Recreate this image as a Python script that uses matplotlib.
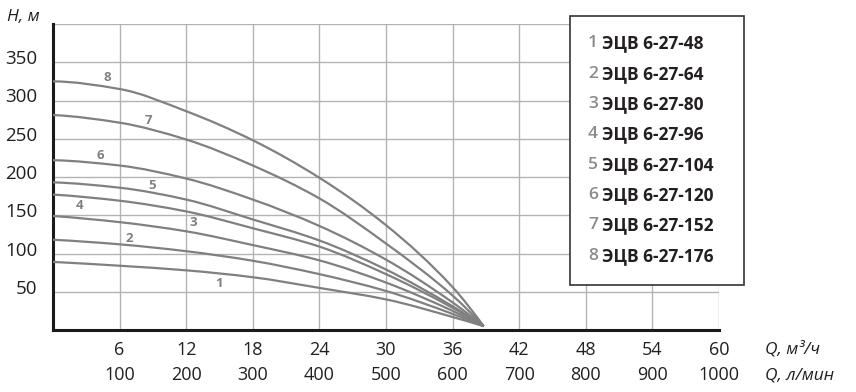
import numpy as np
import matplotlib
matplotlib.use("Agg")
import matplotlib.pyplot as plt
from matplotlib.path import Path
from matplotlib.patches import PathPatch, Rectangle
from matplotlib.transforms import ScaledTranslation

plt.rcParams['font.family'] = ['Open Sans', 'DejaVu Sans']

# ---- data ----
q_m3h = [0, 6, 12, 18, 24, 30, 36, 38.8]
head_1 = [89, 84, 78, 69, 55, 40, 17, 5]
head_2 = [118, 112, 103, 90.5, 73, 51, 21, 5]
head_3 = [149, 141, 129, 111, 91, 62, 25, 5]
head_4 = [177, 169, 155, 133, 109, 73, 29, 5]
head_5 = [193, 186, 170.5, 144.5, 117, 79, 31, 5]
head_6 = [222, 215, 198, 170.5, 136, 92, 36, 5]
head_7 = [281, 271, 249, 215, 172, 113, 45, 5]
head_8 = [325, 315, 286, 248, 199, 137, 56, 5]
heads = [head_1, head_2, head_3, head_4, head_5, head_6, head_7, head_8]
curve_ids = ['1', '2', '3', '4', '5', '6', '7', '8']
models = ['ЭЦВ 6-27-48', 'ЭЦВ 6-27-64', 'ЭЦВ 6-27-80', 'ЭЦВ 6-27-96',
          'ЭЦВ 6-27-104', 'ЭЦВ 6-27-120', 'ЭЦВ 6-27-152', 'ЭЦВ 6-27-176']
label_q = [15, 6.9, 12.6, 2.4, 8.9, 4.3, 8.6, 4.9]
label_h = [61, 120, 140, 163, 189, 228, 274, 330]
x_ticks = [6, 12, 18, 24, 30, 36, 42, 48, 54, 60]
lpm_labels = ['100', '200', '300', '400', '500', '600', '700', '800', '900', '1000']
y_ticks = [50, 100, 150, 200, 250, 300, 350]

CURVE = '#808080'
TXT = '#231f20'

fig = plt.figure(figsize=(8.56, 3.92), dpi=100)
W, H = 856, 392
ax = fig.add_axes([53 / W, 1 - 330 / H, (719 - 53) / W, (330 - 24) / H])
ax.set_xlim(0, 60)
ax.set_ylim(0, 400)

ax.tick_params(length=0)
ax.set_xticks(x_ticks)
ax.set_xticklabels([str(v) for v in x_ticks], fontsize=13, color=TXT)
ax.set_yticks(y_ticks)
ax.set_yticklabels([str(v) for v in y_ticks], fontsize=13.5, color=TXT)
ax.tick_params(axis='x', pad=8)
ax.tick_params(axis='y', pad=11)
for xv in x_ticks:
    ax.axvline(xv, color='#b3b3b3', linewidth=1.0, zorder=0.5)
for yv in y_ticks + [400]:
    ax.axhline(yv, color='#b3b3b3', linewidth=1.0, zorder=0.5)
for lab in ax.get_yticklabels():
    lab.set_transform(lab.get_transform() + ScaledTranslation(0, 5 / 100, fig.dpi_scale_trans))

for s in ['top', 'right']:
    ax.spines[s].set_visible(False)
for s in ['left', 'bottom']:
    ax.spines[s].set_linewidth(2.2)
    ax.spines[s].set_color('#1a1a1a')


# smooth monotone (PCHIP-style) Bezier path through the read points
def pchip_slopes(x, y):
    h = np.diff(x)
    d = np.diff(y) / h
    n = len(x)
    m = np.zeros(n)
    for k in range(1, n - 1):
        if d[k - 1] * d[k] <= 0:
            m[k] = 0.0
        else:
            w1 = 2 * h[k] + h[k - 1]
            w2 = h[k] + 2 * h[k - 1]
            m[k] = (w1 + w2) / (w1 / d[k - 1] + w2 / d[k])
    m[0] = ((2 * h[0] + h[1]) * d[0] - h[0] * d[1]) / (h[0] + h[1])
    if np.sign(m[0]) != np.sign(d[0]):
        m[0] = 0.0
    m[-1] = ((2 * h[-1] + h[-2]) * d[-1] - h[-1] * d[-2]) / (h[-1] + h[-2])
    if np.sign(m[-1]) != np.sign(d[-1]):
        m[-1] = 0.0
    return m


def smooth_path(xs, ys):
    x = np.asarray(xs, float)
    y = np.asarray(ys, float)
    m = pchip_slopes(x, y)
    verts = [(x[0], y[0])]
    codes = [Path.MOVETO]
    for i in range(len(x) - 1):
        hseg = x[i + 1] - x[i]
        verts += [(x[i] + hseg / 3, y[i] + m[i] * hseg / 3),
                  (x[i + 1] - hseg / 3, y[i + 1] - m[i + 1] * hseg / 3),
                  (x[i + 1], y[i + 1])]
        codes += [Path.CURVE4] * 3
    return Path(verts, codes)


for hs in heads:
    patch = PathPatch(smooth_path(q_m3h, hs), facecolor='none', edgecolor=CURVE,
                      linewidth=1.6, transform=ax.transData, zorder=3)
    ax.add_patch(patch)

for cid, lq, lh in zip(curve_ids, label_q, label_h):
    ax.text(lq, lh, cid, fontsize=9.5, color=CURVE, fontweight='bold',
            ha='center', va='center', zorder=4)

# second row of x labels (l/min)
off = ScaledTranslation(0, -45 / 100, fig.dpi_scale_trans)
for xv, lab in zip(x_ticks, lpm_labels):
    ax.text(xv, 0, lab, transform=ax.transData + off, fontsize=13, color=TXT,
            ha='center', va='center')

# axis titles
fig.text(7 / W, 1 - 17 / H, 'H, м', fontsize=12.5, style='italic', color=TXT,
         ha='left', va='center')
fig.text(765 / W, 1 - 349 / H, 'Q, м³/ч', fontsize=12.5, style='italic', color=TXT,
         ha='left', va='center')
fig.text(765 / W, 1 - 375 / H, 'Q, л/мин', fontsize=12.5, style='italic', color=TXT,
         ha='left', va='center')

# legend box
rect = Rectangle((570 / W, 1 - 285 / H), (744 - 570) / W, (285 - 16) / H,
                 transform=fig.transFigure, facecolor='white', edgecolor='#333333',
                 linewidth=1.2, zorder=10)
fig.add_artist(rect)
rows_y = [43, 74, 104, 134, 165, 195, 225, 256]
for cid, name, yy in zip(curve_ids, models, rows_y):
    fig.text(588 / W, 1 - yy / H, cid, fontsize=12.5, color='#8a8a8a',
             fontweight='semibold', ha='left', va='center', zorder=11)
    fig.text(602 / W, 1 - yy / H, name, fontsize=12.5, color=TXT, fontweight='bold',
             ha='left', va='center', zorder=11)

fig.savefig('out.png', dpi=100)
